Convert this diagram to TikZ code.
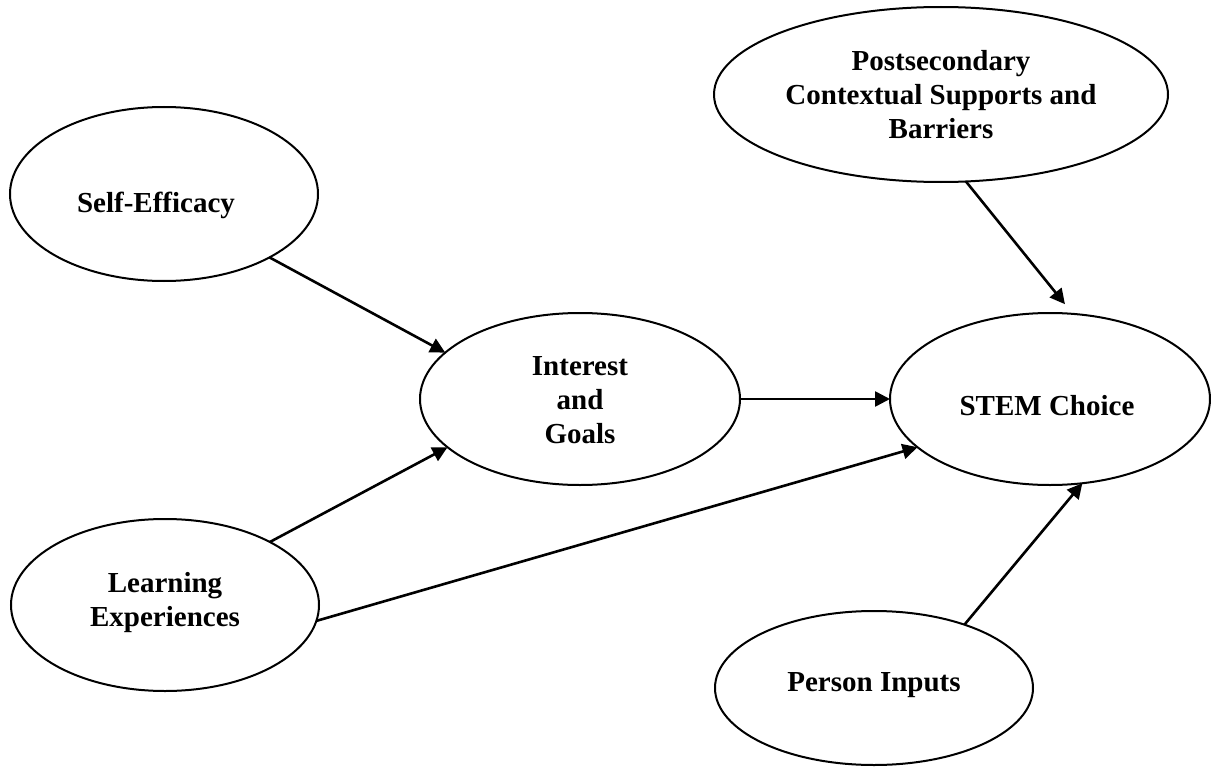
\documentclass[tikz,border=0pt]{standalone}
\usepackage{fontspec}
\setmainfont{Liberation Serif}
\usetikzlibrary{shapes.geometric,arrows.meta}
\begin{document}
\begin{tikzpicture}[x=1pt,y=-1pt,
  oval/.style={draw, ellipse, line width=2pt, inner sep=0pt, outer sep=0pt},
  lbl/.style={font=\fontsize{29}{34}\selectfont\bfseries, align=center, anchor=base, inner sep=0pt},
  link/.style={line width=2.6pt, -{Triangle[length=15pt,width=15pt]}}]
\useasboundingbox (0,0) rectangle (1211,768);
% ellipses
\node[oval, minimum width=308pt, minimum height=174pt] (se) at (164,194) {};
\node[oval, minimum width=308pt, minimum height=172pt] (le) at (165,605) {};
\node[oval, minimum width=320pt, minimum height=172pt] (ig) at (580,399) {};
\node[oval, minimum width=320pt, minimum height=172pt] (st) at (1050,399) {};
\node[oval, minimum width=454pt, minimum height=175pt] (ps) at (941,94.5) {};
\node[oval, minimum width=318pt, minimum height=154pt] (pi) at (874,688) {};
% labels
\node[lbl] (se-t) at (156,212) {Self-Efficacy};
\node[lbl] (le-t) at (165,626) {Learning\\Experiences};
\node[lbl] (ig-t) at (580,443) {Interest\\and\\Goals};
\node[lbl] (st-t) at (1047,415) {STEM Choice};
\node[lbl] (ps-t) at (941,138) {Postsecondary\\Contextual Supports and\\Barriers};
\node[lbl] (pi-t) at (874,691) {Person Inputs};
% connectors
\draw[link] (se.-31.2) -- (ig.161.2);
\draw[link] (le.31) -- (ig.-160);
\draw[link] (le.-6.9) -- (st.-160.5);
\draw[link] (ig.east) -- (st.west);
\draw[link, shorten >=12.5pt] (ps.-74.3) -- (st.75.6);
\draw[link] (pi.35.8) -- (st.-69.8);
\end{tikzpicture}
\end{document}
